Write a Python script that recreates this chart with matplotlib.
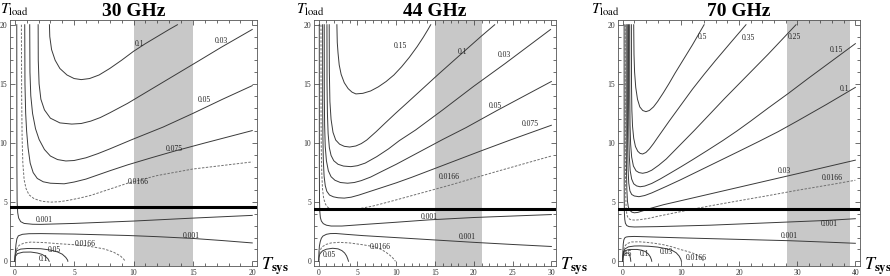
import matplotlib
matplotlib.use("Agg")
import matplotlib.pyplot as plt
from matplotlib.ticker import MultipleLocator

plt.rcParams['font.family'] = ['Liberation Serif', 'DejaVu Serif']
plt.rcParams['mathtext.fontset'] = 'stix'

# panel settings
titles = ["30 GHz", "44 GHz", "70 GHz"]
tsys_max = [20, 30, 40]
band_lo = [10, 15, 28.3]
band_hi = [15, 21, 39]
thick_y = [4.55, 4.45, 4.45]

# ---- 30 GHz contour lines: level, then (Tsys, Tload) points
c30_levels = ["0.1", "0.03", "0.05", "0.075", "0.0166", "0.001",
              "0.001", "0.0166", "0.05", "0.1"]
c30_lines = [
    [(2.92, 20), (2.95, 19), (3.1, 17.9), (3.4, 17.0), (3.8, 16.3), (4.4, 15.75), (5.0, 15.45),
     (5.6, 15.36), (6.3, 15.45), (7.1, 15.75), (8, 16.3), (9, 17.0), (10, 17.75), (11, 18.4),
     (12, 19.0), (13, 19.6), (13.7, 20)],
    [(1.97, 20), (1.98, 17), (2.05, 15), (2.2, 13.7), (2.5, 12.8), (3.0, 12.1), (3.8, 11.7),
     (4.8, 11.6), (5.6, 11.65), (6.4, 11.85), (7.2, 12.15), (8, 12.55), (9.5, 13.35), (11, 14.25),
     (12.5, 15.15), (14, 16.05), (15.5, 16.95), (17.4, 18.1), (20, 19.6)],
    [(1.26, 20), (1.28, 16), (1.35, 14), (1.5, 12.5), (1.75, 11.2), (2.05, 10.3), (2.5, 9.45),
     (3.0, 8.9), (3.6, 8.6), (4.3, 8.48), (5, 8.52), (6, 8.75), (7, 9.1), (8, 9.5), (9.9, 10.3),
     (12.5, 11.35), (15, 12.5), (17.5, 13.7), (20, 14.85)],
    [(0.84, 20), (0.86, 15), (0.92, 12.5), (1.0, 11), (1.12, 9.6), (1.3, 8.3), (1.55, 7.5),
     (1.9, 7.0), (2.4, 6.72), (3.0, 6.6), (4.16, 6.55), (5, 6.7), (6, 6.95), (7, 7.3),
     (8, 7.65), (9.5, 8.15), (11.5, 8.75), (13.4, 9.3), (16, 10.0), (20, 11.05)],
    [(0.56, 20), (0.58, 14), (0.62, 10.5), (0.68, 8.3), (0.79, 6.9), (0.95, 6.15), (1.2, 5.62),
     (1.63, 5.29), (2.3, 5.07), (3.03, 5.0), (3.8, 5.04), (4.5, 5.15), (5.5, 5.35), (6.4, 5.57),
     (8, 6.1), (9.5, 6.6), (12, 7.25), (15, 7.8), (20, 8.4)],
    [(0.17, 20), (0.18, 8), (0.2, 5), (0.25, 4.1), (0.33, 3.65), (0.5, 3.35), (0.79, 3.2),
     (1.5, 3.13), (2.2, 3.12), (5, 3.2), (10, 3.4), (15, 3.65), (20, 3.88)],
    [(0, 0), (0.04, 0.65), (0.1, 1.4), (0.18, 1.9), (0.3, 2.15), (0.65, 2.28), (1.2, 2.33),
     (2.2, 2.34), (5, 2.3), (9.5, 2.18), (12, 2.08), (15, 1.93), (17.5, 1.75), (20, 1.55)],
    [(0, 0), (0.05, 0.5), (0.15, 1.0), (0.37, 1.35), (0.8, 1.55), (1.35, 1.62), (2.5, 1.58),
     (3.6, 1.49), (5, 1.4), (6.2, 1.28), (7.5, 1.05), (8.3, 0.78), (8.9, 0.45), (9.2, 0.15), (9.3, 0)],
    [(0, 0), (0.04, 0.5), (0.14, 0.88), (0.5, 1.03), (1.07, 1.08), (2.19, 1.06), (3.0, 0.95),
     (3.6, 0.79), (4.0, 0.6), (4.3, 0.32), (4.45, 0.1), (4.47, 0)],
    [(0, 0), (0.05, 0.4), (0.23, 0.65), (0.7, 0.77), (1.35, 0.78), (1.9, 0.7), (2.3, 0.58),
     (2.6, 0.4), (2.8, 0.2), (2.9, 0)],
]
c30_label_pos = [(10.5, 18.4), (17.4, 18.6), (16.0, 13.6), (13.45, 9.5), (10.4, 6.7),
                 (2.5, 3.45), (14.9, 2.1), (5.9, 1.45), (3.3, 0.95), (2.4, 0.2)]

# ---- 44 GHz
c44_levels = ["0.15", "0.1", "0.03", "0.05", "0.075", "0.0166", "0.001",
              "0.001", "0.0166", "0.05"]
c44_lines = [
    [(2.35, 20), (2.4, 18.5), (2.5, 17.6), (2.65, 16.6), (2.9, 15.8), (3.3, 15.1), (3.8, 14.6),
     (4.3, 14.3), (4.8, 14.15), (5.7, 14.2), (6.7, 14.4), (7.7, 14.75), (8.7, 15.2), (9.7, 15.75),
     (10.7, 16.45), (11.7, 17.25), (12.7, 18.15), (13.5, 18.95), (14.1, 19.6), (14.45, 20)],
    [(1.36, 20), (1.38, 16), (1.45, 13.5), (1.6, 12), (1.85, 10.9), (2.2, 10.25), (2.7, 9.9),
     (3.3, 9.72), (4.0, 9.66), (4.8, 9.75), (5.5, 9.95), (6.2, 10.25), (7.4, 10.95), (8.6, 11.7),
     (9.9, 12.5), (11.5, 13.45), (13, 14.35), (15.5, 15.85), (18.5, 17.6), (21, 19.05), (22.7, 20)],
    [(1.07, 20), (1.08, 15), (1.13, 12.5), (1.22, 10.8), (1.38, 9.6), (1.6, 8.95), (1.95, 8.5),
     (2.5, 8.2), (3.2, 8.05), (4.15, 8.0), (5.0, 8.08), (6.0, 8.3), (7.5, 8.85), (9, 9.5),
     (10.4, 10.2), (12.5, 11.1), (16, 12.8), (20, 14.8), (24, 16.7), (29.9, 19.6)],
    [(0.72, 20), (0.73, 14), (0.77, 11.5), (0.85, 9.7), (1.0, 8.5), (1.25, 7.65), (1.6, 7.15),
     (2.1, 6.85), (2.8, 6.66), (3.73, 6.6), (4.6, 6.66), (5.5, 6.82), (6.7, 7.12), (8, 7.55),
     (10, 8.2), (12, 8.9), (14, 9.6), (16, 10.3), (19, 11.3), (23, 12.75), (30, 15.2)],
    [(0.51, 20), (0.52, 13), (0.55, 10.5), (0.6, 8.6), (0.7, 7.2), (0.85, 6.4), (1.05, 5.92),
     (1.4, 5.6), (1.9, 5.45), (2.5, 5.37), (3.3, 5.34), (4.2, 5.42), (5.2, 5.6), (6.5, 5.88),
     (8, 6.2), (10, 6.63), (12, 7.1), (15, 7.85), (18, 8.6), (21, 9.35), (24.9, 10.3), (30, 11.5)],
    [(0.3, 20), (0.31, 12), (0.34, 9.5), (0.4, 7.5), (0.5, 6.1), (0.65, 5.3), (0.9, 4.8),
     (1.2, 4.55), (1.6, 4.4), (2.4, 4.3), (3.2, 4.3), (4, 4.35), (5.5, 4.48), (7, 4.67),
     (9.5, 5.1), (12, 5.55), (14.5, 6.0), (17, 6.45), (20, 7.03), (23, 7.6), (26.5, 8.25), (30, 8.9)],
    [(0.08, 20), (0.09, 8), (0.11, 5.2), (0.15, 4.2), (0.22, 3.7), (0.35, 3.4), (0.6, 3.18),
     (1.0, 3.05), (1.6, 2.98), (3, 2.98), (6, 3.12), (10, 3.3), (14.2, 3.5), (20, 3.7), (30, 3.95)],
    [(0, 0), (0.04, 0.8), (0.1, 1.3), (0.2, 1.65), (0.35, 1.95), (0.55, 2.13), (1.0, 2.28),
     (1.5, 2.34), (2.2, 2.35), (3.5, 2.28), (5.7, 2.17), (10, 2.0), (15, 1.8), (20, 1.6),
     (25, 1.42), (30, 1.25)],
    [(0, 0), (0.05, 0.45), (0.15, 0.85), (0.4, 1.2), (0.94, 1.42), (1.6, 1.55), (2.65, 1.6),
     (4, 1.55), (5.66, 1.4), (7, 1.25), (7.9, 1.05), (8.6, 0.8), (9.2, 0.5), (9.6, 0.25), (9.9, 0)],
    [(0, 0), (0.05, 0.35), (0.15, 0.62), (0.5, 0.88), (1.0, 1.02), (1.8, 1.1), (2.5, 1.05),
     (3.0, 0.9), (3.35, 0.7), (3.6, 0.45), (3.75, 0.2), (3.85, 0)],
]
c44_label_pos = [(10.6, 18.2), (18.5, 17.7), (23.9, 17.45), (22.8, 13.15), (27.3, 11.6),
                 (16.8, 7.1), (14.2, 3.75), (19.2, 2.05), (8.0, 1.2), (1.4, 0.55)]

# ---- 70 GHz
c70_levels = ["0.5", "0.35", "0.25", "0.15", "0.1", "0.03", "0.0166", "0.001",
              "0.001", "0.0166", "0.03", "0.1", "0.5"]
c70_lines = [
    [(1.9, 20), (1.95, 17.5), (2.05, 16.0), (2.25, 14.7), (2.55, 13.7), (2.95, 13.05),
     (3.45, 12.75), (4.0, 12.65), (4.6, 12.75), (5.3, 13.05), (6, 13.5), (7, 14.25), (8, 15.05),
     (9, 15.9), (10, 16.7), (11, 17.5), (12, 18.3), (13, 19.15), (14, 20)],
    [(1.5, 20), (1.52, 15), (1.58, 12.8), (1.7, 11.4), (1.9, 10.4), (2.2, 9.7), (2.6, 9.3),
     (3.0, 9.12), (3.44, 9.07), (4.0, 9.2), (4.6, 9.5), (5.3, 9.95), (6, 10.45), (7, 11.15),
     (8, 11.85), (10, 13.2), (12, 14.55), (14, 15.8), (16, 17.0), (18.5, 18.45), (21.2, 20)],
    [(1.2, 20), (1.22, 14), (1.27, 11.5), (1.37, 9.9), (1.55, 8.8), (1.85, 8.05), (2.3, 7.65),
     (2.8, 7.5), (3.44, 7.44), (4.2, 7.52), (5, 7.7), (6.2, 8.12), (7.5, 8.65), (9, 9.4),
     (10.6, 10.2), (12.3, 11.05), (15, 12.45), (17.5, 13.75), (20, 15), (25, 17.5), (29.8, 20)],
    [(1.0, 20), (1.02, 13), (1.07, 10.5), (1.15, 8.8), (1.3, 7.65), (1.55, 6.95), (1.9, 6.55),
     (2.4, 6.37), (3.0, 6.3), (3.8, 6.36), (5, 6.58), (6.5, 6.97), (8, 7.4), (10, 7.98),
     (12, 8.58), (14.5, 9.35), (17.2, 10.2), (19.6, 11.0), (22, 11.85), (25, 12.95), (28.5, 14.2),
     (32, 15.5), (36, 16.95), (40, 18.4)],
    [(0.8, 20), (0.82, 12), (0.86, 9.5), (0.93, 7.8), (1.05, 6.6), (1.25, 5.95), (1.55, 5.65),
     (2.0, 5.52), (2.8, 5.46), (3.8, 5.56), (5, 5.78), (7.5, 6.33), (10, 6.9), (15, 8.1),
     (20, 9.3), (23.5, 10.15), (26.7, 10.95), (30, 11.85), (35, 13.25), (40, 14.7)],
    [(0.6, 20), (0.62, 10), (0.66, 7.6), (0.72, 6.1), (0.82, 5.1), (0.97, 4.6), (1.2, 4.32),
     (1.6, 4.15), (2, 4.1), (2.6, 4.13), (3.5, 4.27), (4.6, 4.45), (7, 4.78), (10, 5.12),
     (20, 6.26), (30, 7.4), (40, 8.55)],
    [(0.45, 20), (0.46, 10), (0.48, 7.5), (0.53, 5.6), (0.6, 4.5), (0.72, 3.95), (0.9, 3.7),
     (1.2, 3.56), (1.5, 3.5), (2.2, 3.48), (3, 3.52), (4.5, 3.63), (6, 3.8), (9, 4.1),
     (12.5, 4.45), (16, 4.77), (20, 5.12), (25, 5.55), (30, 6.0), (36, 6.5), (40, 6.85)],
    [(0.25, 20), (0.26, 8), (0.27, 5.2), (0.3, 4.1), (0.36, 3.55), (0.47, 3.22), (0.7, 3.02),
     (1.1, 2.93), (2, 2.9), (6, 2.93), (15, 3.05), (25, 3.25), (35, 3.45), (40, 3.6)],
    [(0, 0), (0.04, 0.8), (0.1, 1.45), (0.2, 1.8), (0.35, 1.97), (0.6, 2.05), (1.0, 2.08),
     (2, 2.1), (10, 1.98), (20, 1.85), (28.6, 1.74), (35, 1.62), (40, 1.52)],
    [(0, 0), (0.05, 0.5), (0.15, 0.95), (0.3, 1.22), (0.7, 1.48), (1.5, 1.63), (2.8, 1.65),
     (4.1, 1.6), (5.5, 1.52), (7, 1.4), (8.5, 1.22), (9.9, 1.0), (11, 0.85), (12, 0.7),
     (12.8, 0.53), (13.4, 0.32), (13.75, 0.12), (13.9, 0)],
    [(0, 0), (0.05, 0.45), (0.15, 0.8), (0.4, 1.05), (1, 1.22), (2, 1.29), (3, 1.3),
     (4.5, 1.27), (6, 1.2), (7.4, 1.07), (8.5, 0.92), (9.2, 0.72), (9.7, 0.45), (10.0, 0.18), (10.1, 0)],
    [(0, 0), (0.05, 0.4), (0.15, 0.67), (0.4, 0.86), (0.8, 0.96), (1.2, 1.0), (2.5, 1.0),
     (3.3, 0.93), (3.9, 0.82), (4.4, 0.62), (4.75, 0.38), (4.95, 0.13), (5.0, 0)],
    [(0, 0), (0.05, 0.3), (0.15, 0.48), (0.35, 0.63), (0.6, 0.7), (0.9, 0.7), (1.1, 0.62),
     (1.25, 0.45), (1.35, 0.22), (1.4, 0)],
]
c70_label_pos = [(13.8, 19.0), (21.6, 18.9), (29.6, 19.0), (36.7, 17.9), (38.1, 14.6),
                 (27.8, 7.65), (36.1, 7.0), (35.5, 3.15), (28.6, 2.15),
                 (12.6, 0.25), (7.5, 0.8), (3.7, 0.6), (0.9, 0.65)]

all_levels = [c30_levels, c44_levels, c70_levels]
all_lines = [c30_lines, c44_lines, c70_lines]
all_labels = [c30_label_pos, c44_label_pos, c70_label_pos]

fig = plt.figure(figsize=(8.9, 2.76), dpi=100)
lefts = [10, 314, 618]
widths = [247, 242, 242]
tload_x = [0, 296, 591]

for i in range(3):
    ax = fig.add_axes([lefts[i] / 890, 10 / 276, widths[i] / 890, 246 / 276])
    pad = 0.02 * tsys_max[i]
    ax.set_xlim(-pad, tsys_max[i] + pad)
    ax.set_ylim(-0.4, 20.4)

    ax.axvspan(band_lo[i], band_hi[i], color='#c8c8c8', lw=0, zorder=0)

    for lev, pts in zip(all_levels[i], all_lines[i]):
        xs = [p[0] for p in pts]
        ys = [p[1] for p in pts]
        if lev == "0.0166":
            ax.plot(xs, ys, color='#707070', lw=0.7, ls=(0, (2.5, 1.5)), zorder=2)
        else:
            ax.plot(xs, ys, color='#3a3a3a', lw=0.7, zorder=2)

    for lev, (lx, ly) in zip(all_levels[i], all_labels[i]):
        ax.text(lx, ly, lev, fontsize=5.5, ha='center', va='center', color='#222222', zorder=3)

    ax.axhline(thick_y[i], color='black', lw=2.2, zorder=4)

    ax.xaxis.set_major_locator(MultipleLocator(5 if i < 2 else 10))
    ax.xaxis.set_minor_locator(MultipleLocator(1 if i < 2 else 2))
    ax.yaxis.set_major_locator(MultipleLocator(5))
    ax.yaxis.set_minor_locator(MultipleLocator(1))
    ax.tick_params(which='both', direction='in', top=True, right=True, labelsize=5.5,
                   width=0.5, pad=2, colors='#333333')
    ax.tick_params(which='major', length=3.5)
    ax.tick_params(which='minor', length=2)
    for s in ax.spines.values():
        s.set_linewidth(0.6)
        s.set_color('#555555')

    ax.set_title(titles[i], fontsize=14, fontweight='bold', pad=2)
    fig.text(tload_x[i] / 890, (276 - 14) / 276, r'$T_{\rm load}$', fontsize=11,
             ha='left', va='baseline')
    ax.text(1.015, 0.0, r'$T_{\mathbf{sys}}$', transform=ax.transAxes, fontsize=13,
            ha='left', va='center')

fig.savefig('out.png', dpi=100)
